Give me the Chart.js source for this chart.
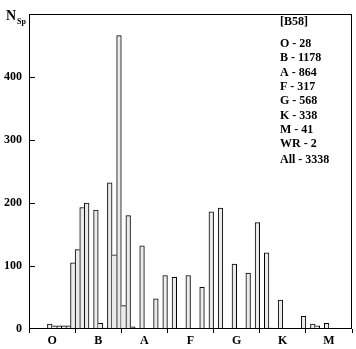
<!DOCTYPE html>
<html>
<head>
<meta charset="utf-8">
<script src="https://cdn.jsdelivr.net/npm/chart.js@4"></script>
<style>
  html, body { margin: 0; padding: 0; background: #fff; }
  #wrap { width: 356px; height: 349px; }
</style>
</head>
<body>
<div id="wrap"><canvas id="spectraChart"></canvas></div>
<script>
// spectral classes and counts per subtype (0..9 within each class)
const classNames = ["O", "B", "A", "F", "G", "K", "M"];
const oCounts = [0, 0, 0, 0, 8, 5, 5, 5, 5, 105];
const bCounts = [126, 193, 200, 0, 189, 9, 1.5, 232, 118, 466];
const aCounts = [37, 180, 3.5, 0, 132, 0, 0, 48, 0, 85];
const fCounts = [0, 82, 0, 0, 85, 0, 0, 66, 0, 186];
const gCounts = [0, 192, 0, 0, 103, 0, 0, 89, 0, 169];
const kCounts = [0, 121, 1.5, 0, 46, 0, 0, 0, 0, 20];
const mCounts = [0, 8, 5, 0, 9, 0, 0, 0, 0, 0];
const yTicks = [0, 100, 200, 300, 400];
const catalogTitle = "[B58]";
const classTotals = ["O - 28", "B - 1178", "A - 864", "F - 317", "G - 568", "K - 338", "M - 41", "WR - 2"];
const grandTotal = "All - 3338";

const counts = [].concat(oCounts, bCounts, aCounts, fCounts, gCounts, kCounts, mCounts);
const subtypeLabels = [];
classNames.forEach(c => {
    for (let d = 0; d < 10; d++) subtypeLabels.push(c + d);
});

const serif = "'Liberation Serif', 'Times New Roman', serif";

// frame, inward y ticks and the text block
const decorations = {
    id: "decorations",
    afterDraw(chart) {
        const { ctx, chartArea: a, scales } = chart;
        ctx.save();
        ctx.strokeStyle = "#000";
        ctx.lineWidth = 1;
        ctx.strokeRect(Math.round(a.left) + 0.5, Math.round(a.top) + 0.5,
            Math.round(a.right - a.left) - 1, Math.round(a.bottom - a.top) - 1);

        ctx.beginPath();
        yTicks.forEach(v => {
            if (v === 0) return;
            const y = Math.round(scales.y.getPixelForValue(v)) + 0.5;
            ctx.moveTo(a.left, y);
            ctx.lineTo(a.left + 6, y);
        });
        ctx.stroke();

        ctx.fillStyle = "#000";
        ctx.textBaseline = "alphabetic";
        ctx.textAlign = "left";
        ctx.font = "bold 14px " + serif;
        ctx.fillText("N", 6, 20);
        ctx.font = "bold 8px " + serif;
        ctx.fillText("Sp", 17, 24);

        ctx.font = "bold 12px " + serif;
        ctx.textBaseline = "middle";
        ctx.fillText(catalogTitle, 280, 22);
        classTotals.forEach((t, i) => ctx.fillText(t, 280, 44 + i * 14.3));
        ctx.fillText(grandTotal, 280, 160);
        ctx.restore();
    }
};

document.addEventListener("DOMContentLoaded", () => {
    const canvas = document.getElementById("spectraChart");

    new Chart(canvas, {
        type: "bar",
        data: {
            labels: subtypeLabels,
            datasets: [{
                data: counts,
                backgroundColor: "#ebebeb",
                borderColor: "#000",
                // shared edges are drawn once, by the taller neighbour
                borderWidth: ctx => {
                    const i = ctx.dataIndex;
                    const v = counts[i];
                    const prev = i > 0 ? counts[i - 1] : 0;
                    const next = i < counts.length - 1 ? counts[i + 1] : 0;
                    return { top: 1, bottom: 0, left: v >= prev ? 1 : 0, right: v > next ? 1 : 0 };
                },
                borderSkipped: false,
                categoryPercentage: 1,
                barPercentage: 1,
                xAxisID: "x",
                yAxisID: "y"
            }]
        },
        options: {
            responsive: true,
            maintainAspectRatio: false,
            animation: false,
            layout: { padding: { top: 5, right: 4, left: 0, bottom: 0 } },
            plugins: {
                legend: { display: false },
                tooltip: { enabled: false }
            },
            scales: {
                x: {
                    type: "category",
                    display: false,
                    offset: true
                },
                classes: {
                    type: "linear",
                    position: "bottom",
                    offset: false,
                    min: 0,
                    max: classNames.length,
                    border: { display: false },
                    grid: {
                        offset: false,
                        drawOnChartArea: false,
                        drawTicks: true,
                        tickLength: 4,
                        color: ctx => (ctx.tick && Number.isInteger(ctx.tick.value)) ? "#000" : "rgba(0,0,0,0)"
                    },
                    ticks: {
                        stepSize: 0.5,
                        autoSkip: false,
                        maxRotation: 0,
                        padding: 1,
                        color: "#000",
                        font: { family: serif, size: 12, weight: "bold" },
                        callback: v => Number.isInteger(v) ? "" : classNames[Math.floor(v)]
                    },
                    afterFit: scale => { scale.height = 20; }
                },
                y: {
                    min: 0,
                    max: 500,
                    border: { display: false },
                    grid: { display: false, drawTicks: false },
                    afterBuildTicks: scale => {
                        scale.ticks = yTicks.map(v => ({ value: v }));
                    },
                    ticks: {
                        padding: 7,
                        color: "#000",
                        font: { family: serif, size: 12, weight: "bold" }
                    },
                    afterFit: scale => { scale.width = 29; }
                }
            }
        },
        plugins: [decorations]
    });
});
</script>
</body>
</html>
